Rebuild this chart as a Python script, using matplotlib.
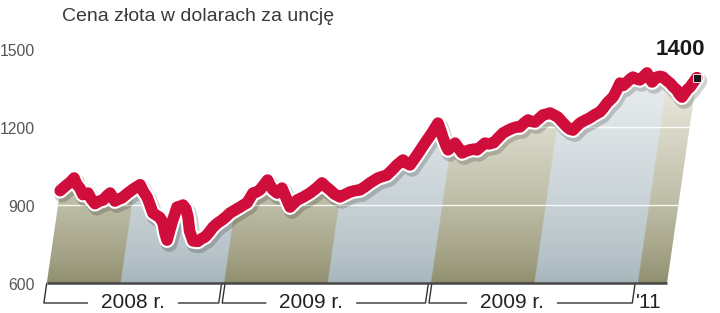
import numpy as np
import matplotlib.pyplot as plt
from matplotlib.patches import Polygon
from matplotlib import patheffects as pe
from matplotlib.colors import to_rgb

plt.rcParams['font.family'] = ['Liberation Sans', 'DejaVu Sans']

# gold price in USD per ounce, x = months since 1 Jan 2008
months = [1.75, 2.05, 2.3, 2.45, 2.65, 2.87, 3.1, 3.39, 3.6, 3.88, 4.1, 4.32, 4.5, 4.67,
          4.85, 5.01, 5.2, 5.4, 5.6, 5.81, 6.05, 6.34, 6.55, 6.84, 7.05, 7.32, 7.55, 7.76,
          8.0, 8.2, 8.37, 8.5, 8.67, 8.85, 9.0, 9.2, 9.39, 9.6, 9.88, 10.17, 10.35, 10.55,
          10.75, 10.93, 11.15, 11.39, 11.6, 11.79, 12.05, 12.33, 12.5, 12.7, 12.96, 13.15,
          13.34, 13.55, 13.7, 13.9, 14.1, 14.36, 14.6, 14.9, 15.23, 15.58, 15.9, 16.27,
          16.6, 16.88, 17.15, 17.4, 17.7, 18.04, 18.3, 18.58, 18.85, 19.15, 19.4, 19.67,
          20.09, 20.35, 20.58, 20.85, 21.08, 21.39, 21.6, 21.84, 22.16, 22.52, 22.84, 23.11,
          23.3, 23.53, 23.75, 23.92, 24.1, 24.27, 24.5, 24.76, 25.0, 25.19, 25.4, 25.6,
          25.8, 26.0, 26.25, 26.51, 26.75, 26.97, 27.25, 27.5, 27.7, 27.9, 28.1, 28.31,
          28.5, 28.73, 28.93, 29.13, 29.35, 29.53, 29.8, 30.02, 30.3, 30.63, 30.8, 31.0,
          31.15, 31.35, 31.6, 31.88, 32.15, 32.42, 32.6, 32.75, 33.05, 33.2, 33.34, 33.55,
          33.74, 33.9, 34.04, 34.25, 34.47, 34.65, 34.82, 35.0, 35.19, 35.43, 35.6, 35.78,
          36.0, 36.24, 36.45, 36.7, 36.88, 37.05, 37.28, 37.45, 37.57, 37.75]
prices = [955, 975, 990, 1004, 980, 965, 940, 946, 925, 905, 915, 919, 935, 946,
          930, 915, 922, 927, 940, 952, 965, 978, 955, 931, 905, 869, 860, 852,
          830, 790, 765, 830, 892, 895, 900, 885, 854, 800, 762, 760, 770, 777,
          795, 815, 830, 842, 855, 869, 880, 892, 900, 908, 946, 950,
          958, 980, 996, 975, 958, 946, 965, 930, 892, 919, 930, 946,
          965, 985, 970, 958, 942, 931, 940, 950, 955, 958, 970, 985,
          1004, 1010, 1015, 1035, 1054, 1073, 1062, 1054, 1092, 1138, 1177, 1215,
          1190, 1158, 1130, 1112, 1125, 1138, 1120, 1100, 1108, 1112, 1115, 1112,
          1125, 1138, 1135, 1140, 1160, 1177, 1188, 1196, 1200, 1200, 1215, 1227,
          1222, 1219, 1232, 1246, 1250, 1254, 1245, 1238, 1220, 1200, 1192, 1188,
          1200, 1215, 1225, 1235, 1248, 1258, 1275, 1292, 1315, 1340, 1369, 1360,
          1373, 1385, 1392, 1385, 1381, 1395, 1408, 1390, 1373, 1392, 1395, 1392,
          1380, 1369, 1355, 1342, 1325, 1315, 1342, 1355, 1369, 1390]

band_edges = [1.75, 6, 12, 18, 24, 30, 36, 37.75]  # half-year stripes
band_colors = [('#8c8b69', '#f4f3ea'), ('#a5b4bb', '#eff3f4')]  # (bottom, top)
year_edges = [1.75, 12, 24, 36]
year_labels = ['2008 r.', '2009 r.', '2009 r.', "'11"]
label_at = [6.75, 17.1, 28.75, 35.95]
yticks = [600, 900, 1200, 1500]
gridlines = [900, 1200]
last_label = '1400'

# scale of the original picture
W, H = 720, 313
px_month = 17.23
px_usd = 0.26
x0 = 6 - 120 / px_month
y0 = 600 - 30 / px_usd
skew = 0.145 * px_usd / px_month  # stripes lean to the right going up

fig = plt.figure(figsize=(7.2, 3.13), dpi=100)
ax = fig.add_axes([0, 0, 1, 1])

t = np.array(months)
v = np.array(prices)
xs = t + skew * (v - 600)

area = Polygon(np.column_stack([np.r_[xs, band_edges[-1], band_edges[0]],
                                np.r_[v, 600, 600]]),
               closed=True, fc='none', ec='none')
ax.add_patch(area)

# gradient stripes, clipped to the area under the line
gx = np.linspace(band_edges[0] - 0.3, band_edges[-1] + skew * 1000, 1400)
gy = np.linspace(600, 1500, 500)
GX, GY = np.meshgrid(gx, gy)
base = GX - skew * (GY - 600)
idx = np.clip(np.searchsorted(band_edges, base) - 1, 0, len(band_edges) - 2)
f = ((GY - 600) / 900) ** 0.7
img = np.zeros(GX.shape + (3,))
for k, (cb, ct) in enumerate(band_colors):
    m = idx % 2 == k
    cb = np.array(to_rgb(cb))
    ct = np.array(to_rgb(ct))
    img[m] = cb + (ct - cb) * f[m][:, None]
im = ax.imshow(img, extent=[gx[0], gx[-1], 600, 1500], origin='lower',
               aspect='auto', interpolation='bilinear', zorder=1)
im.set_clip_path(area)

for g in gridlines:
    gl = ax.axhline(g, color='white', lw=1.0, alpha=0.9, zorder=2)
    gl.set_clip_path(area)

ax.plot([band_edges[0], band_edges[-1]], [600, 600], color='#474747', lw=1.8,
        solid_capstyle='butt', zorder=3)

ax.plot(xs, v, color='#cf0e3b', lw=8.3, solid_joinstyle='round',
        solid_capstyle='round', zorder=5,
        path_effects=[pe.SimpleLineShadow(offset=(1.5, -2.5), shadow_color='k',
                                          alpha=0.18, linewidth=12),
                      pe.Stroke(linewidth=11.3, foreground='white'),
                      pe.Normal()])
ax.plot(xs[-1], v[-1], marker='s', ms=5.5, color='#1a1a1a', mec='white',
        mew=0.6, zorder=6)
ax.annotate(last_label, (xs[-1], v[-1]), xytext=(-16, 23),
            textcoords='offset pixels', ha='center', va='baseline',
            fontsize=16, fontweight='bold', color='#1a1a1a')

# value labels on the left
for val in yticks:
    ax.text(35 / W, val - 3 / px_usd, str(val), transform=ax.get_yaxis_transform(),
            ha='right', va='center', fontsize=11.3, color='#555555')

fig.text(62 / W, 1 - 21 / H, 'Cena złota w dolarach za uncję', fontsize=14,
         color='#3a3a3a', va='baseline')

ax.set_xlim(x0, x0 + W / px_month)
ax.set_ylim(y0, y0 + H / px_usd)
ax.axis('off')

# year brackets under the axis
y_br = 600 - 20 / px_usd
drop = skew * (600 - y_br)
texts = []
for i, lab in enumerate(year_labels):
    ha = 'left' if i == len(year_labels) - 1 else 'center'
    texts.append(ax.text(label_at[i], 600 - 19 / px_usd, lab, ha=ha, va='center',
                         fontsize=15, color='#222222'))
fig.canvas.draw()
inv = ax.transData.inverted()
pad = 13 / px_month
for i in range(len(year_edges) - 1):
    s = year_edges[i] + (0.1 if i > 0 else 0)
    e = year_edges[i + 1] - 0.1
    bb = texts[i].get_window_extent()
    tl = inv.transform((bb.x0, bb.y0))[0]
    tr = inv.transform((bb.x1, bb.y0))[0]
    kw = dict(color='#333333', lw=1.0, solid_capstyle='butt')
    ax.plot([s, s - drop, tl - pad], [600, y_br, y_br], **kw)
    ax.plot([tr + pad, e - drop, e], [y_br, y_br, 600], **kw)

fig.savefig('out.png', dpi=100)
